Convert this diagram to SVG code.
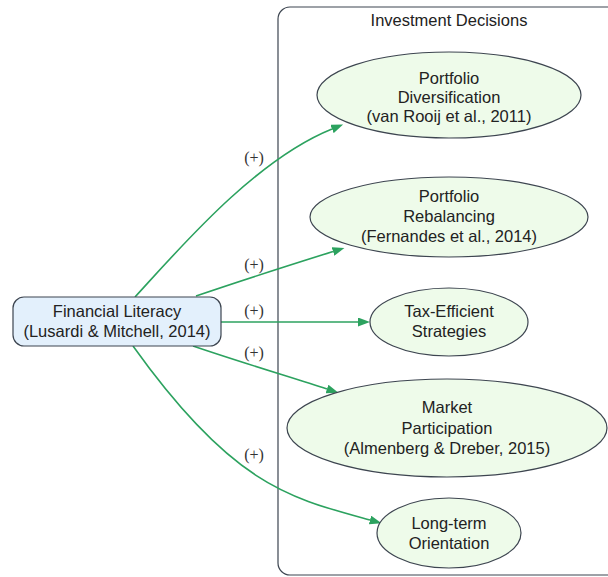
<svg xmlns="http://www.w3.org/2000/svg" width="608" height="577" viewBox="0 0 608 577">
<defs>
<style>
.t{font-family:"Liberation Sans",Arial,sans-serif;font-size:16.5px;fill:#222;text-anchor:middle}
.l{font-family:"Liberation Serif","Times New Roman",serif;font-size:16px;fill:#333;text-anchor:middle}
.e{fill:#eefbea;stroke:#3d4550;stroke-width:1.2}
.c{fill:none;stroke:#2ca25f;stroke-width:1.6;marker-end:url(#arr)}
</style>
<marker id="arr" viewBox="0 0 12 9" refX="0" refY="4.5" markerWidth="12" markerHeight="9" markerUnits="userSpaceOnUse" orient="auto">
<path d="M0,0 L12,4.5 L0,9 z" fill="#2ca25f"/>
</marker>
</defs>
<rect width="608" height="577" fill="#ffffff"/>
<g id="cluster">
<rect x="278" y="7" width="345" height="568" rx="12" ry="12" fill="none" stroke="#3d4550" stroke-width="1.2"/>
<text class="t" x="449" y="26">Investment Decisions</text>
</g>
<g id="connectors">
<path class="c" d="M135,297 C180,248 255,160 332,129"/>
<path class="c" d="M196,296 C240,281 290,265 333,251.5"/>
<path class="c" d="M221,322 L358,322"/>
<path class="c" d="M193,346 C240,362 290,377 327,389"/>
<path class="c" d="M133,346 C233,486 290,498 370,520"/>
<text class="l" x="254" y="163">(+)</text>
<text class="l" x="254" y="270">(+)</text>
<text class="l" x="254" y="316">(+)</text>
<text class="l" x="254" y="358">(+)</text>
<text class="l" x="254" y="460">(+)</text>
</g>
<g id="financial-literacy">
<rect x="13" y="297" width="208" height="49" rx="11" ry="11" fill="#e3f0fc" stroke="#3d4550" stroke-width="1.2"/>
<text class="t" x="117" y="317">Financial Literacy</text>
<text class="t" x="117" y="337">(Lusardi &amp; Mitchell, 2014)</text>
</g>
<g id="portfolio-diversification">
<ellipse class="e" cx="449" cy="95" rx="132" ry="43"/>
<text class="t" x="449" y="84">Portfolio</text>
<text class="t" x="449" y="103">Diversification</text>
<text class="t" x="449" y="122">(van Rooij et al., 2011)</text>
</g>
<g id="portfolio-rebalancing">
<ellipse class="e" cx="449" cy="217" rx="139" ry="40"/>
<text class="t" x="449" y="202">Portfolio</text>
<text class="t" x="449" y="222">Rebalancing</text>
<text class="t" x="449" y="242">(Fernandes et al., 2014)</text>
</g>
<g id="tax-efficient">
<ellipse class="e" cx="449" cy="322" rx="79" ry="34"/>
<text class="t" x="449" y="317">Tax-Efficient</text>
<text class="t" x="449" y="337">Strategies</text>
</g>
<g id="market-participation">
<ellipse class="e" cx="447" cy="428" rx="160" ry="49"/>
<text class="t" x="447" y="413">Market</text>
<text class="t" x="447" y="434">Participation</text>
<text class="t" x="447" y="454">(Almenberg &amp; Dreber, 2015)</text>
</g>
<g id="long-term">
<ellipse class="e" cx="449" cy="533" rx="72" ry="35"/>
<text class="t" x="449" y="529">Long-term</text>
<text class="t" x="449" y="549">Orientation</text>
</g>
</svg>
